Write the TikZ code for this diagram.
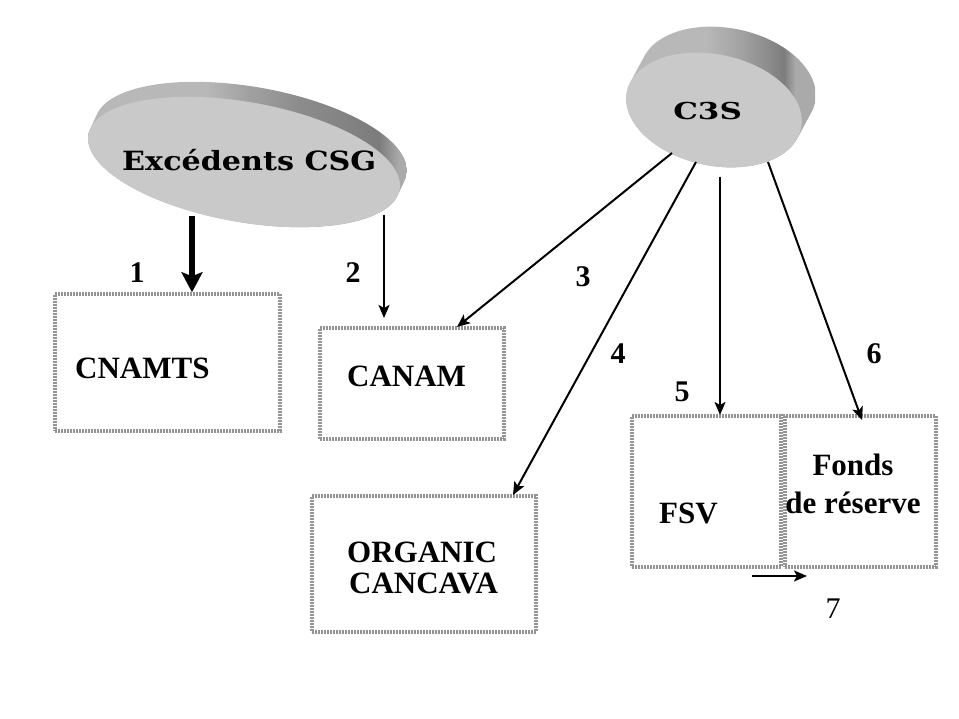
\documentclass[tikz,border=0pt]{standalone}
\usepackage{fontspec}
\setmainfont{Liberation Serif}
\newfontfamily\dvs{DejaVu Serif}
\usetikzlibrary{arrows.meta}
\definecolor{face}{HTML}{C9C9C9}
\definecolor{boxgray}{HTML}{949494}
\definecolor{bL}{HTML}{B8B8B8}
\definecolor{bM}{HTML}{A2A2A2}
\definecolor{bD}{HTML}{8C8C8C}
\definecolor{bK}{HTML}{7C7C7C}
\definecolor{bE}{HTML}{AAAAAA}
\pgfdeclarehorizontalshading{bandA}{100bp}{color(0bp)=(bL); color(44bp)=(bL); color(50bp)=(bM); color(58bp)=(bD); color(70bp)=(bK); color(73bp)=(bE); color(100bp)=(bE)}
\pgfdeclarehorizontalshading{bandB}{100bp}{color(0bp)=(bL); color(47bp)=(bL); color(56bp)=(bM); color(63bp)=(bD); color(67bp)=(bK); color(70bp)=(bE); color(100bp)=(bE)}
\tikzset{
  box/.style={draw=boxgray, line width=3.5pt, dash pattern=on 2pt off 1pt, inner sep=0pt},
  txt/.style={font=\bfseries\fontsize{31}{31}\selectfont, inner sep=0pt},
  num/.style={font=\bfseries\fontsize{30}{30}\selectfont, inner sep=0pt, anchor=base},
  thin/.style={line width=2pt, -{Stealth[length=13pt,width=11pt,inset=3pt]}},
  thick/.style={line width=6pt, -{Stealth[length=20pt,width=21pt,inset=4pt]}},
}
\begin{document}
\begin{tikzpicture}[x=1pt,y=-1pt]
\useasboundingbox (0,0) rectangle (959,719);
\fill[white] (0,0) rectangle (959,719);

% ---- Excedents CSG disc ----
\begin{scope}
  \path[clip, shift={(244,162)}, rotate=-10] plot[domain=0:360, samples=361]
      ({158*cos(\x) + 4.29*((cos(\x)*4.29/158 - sin(\x)*15.99/60) > 0)},
       {60*sin(\x) - 15.99*((cos(\x)*4.29/158 - sin(\x)*15.99/60) > 0)}) -- cycle;
  \shade[shading=bandA] (80,70) rectangle (412,240);
\end{scope}
\fill[face, shift={(244,162)}, rotate=-10] (0,0) ellipse [x radius=158pt, y radius=60pt];
\node[font=\dvs\bfseries\fontsize{26.5}{26.5}\selectfont, inner sep=0pt, anchor=base west, xscale=1.14] (csg) at (122,171) {Excédents CSG};

% ---- C3S disc ----
\begin{scope}
  \path[clip, shift={(714,110)}, rotate=-12] plot[domain=0:360, samples=361]
      ({89*cos(\x) + 8.28*((cos(\x)*8.28/89 - sin(\x)*28.34/55.5) > 0)},
       {55.5*sin(\x) - 28.34*((cos(\x)*8.28/89 - sin(\x)*28.34/55.5) > 0)}) -- cycle;
  \shade[shading=bandB] (620,15) rectangle (815,175);
\end{scope}
\fill[face, shift={(714,110)}, rotate=-12] (0,0) ellipse [x radius=89pt, y radius=55.5pt];
\node[font=\dvs\bfseries\fontsize{23.3}{23.3}\selectfont, inner sep=0pt, anchor=base west, xscale=1.33] (c3s) at (673,120) {C3S};

% ---- boxes ----
\node[box, minimum width=225pt, minimum height=137pt] (cnamts) at (167.5,362.5) {};
\node[box, minimum width=184pt, minimum height=111pt] (canam) at (412,383.5) {};
\node[box, minimum width=224pt, minimum height=136pt] (organic) at (424,564) {};
\node[box, minimum width=149pt, minimum height=151pt] (fsv) at (706.5,491.5) {};
\node[box, minimum width=151pt, minimum height=151pt] (fonds) at (860.5,491.5) {};

\node[txt, anchor=base west] (t1) at (75,379) {CNAMTS};
\node[txt, anchor=base west] (t2) at (347,387) {CANAM};
\node[txt, anchor=base west, align=left] (t3) at (347,593) {ORGANIC\\[0pt]\hspace*{2pt}CANCAVA};
\node[txt, anchor=base west] (t4) at (659,523) {FSV};
\node[txt, anchor=base, align=center, font=\bfseries\fontsize{31}{38}\selectfont] (t5) at (853,513) {Fonds\\de réserve};

% ---- numbers ----
\node[num] (n1) at (137,283) {1};
\node[num] (n2) at (353,283) {2};
\node[num] (n3) at (583,287) {3};
\node[num] (n4) at (618,363) {4};
\node[num] (n5) at (682,402) {5};
\node[num] (n6) at (874,363) {6};
\node[num, font=\fontsize{30}{30}\selectfont] (n7) at (833,618) {7};

% ---- connector end points ----
\coordinate (s1) at (192,216);
\coordinate (s2) at (384,215);
\coordinate (e2) at (384,318);
\coordinate (s3) at (672,153);
\coordinate (e3) at (457,327);
\coordinate (s4) at (696,162);
\coordinate (e4) at (513,495);
\coordinate (s5) at (720,177);
\coordinate (e5) at (720,415);
\coordinate (s6) at (768,162);
\coordinate (e6) at (862,420);
\coordinate (s7) at (752,576);
\coordinate (e7) at (807,576);

\draw[thick] (s1) -- (s1 |- cnamts.north);
\draw[thin] (s2) -- (e2);
\draw[thin] (s3) -- (e3);
\draw[thin] (s4) -- (e4);
\draw[thin] (s5) -- (e5);
\draw[thin] (s6) -- (e6);
\draw[thin] (s7) -- (e7);
\end{tikzpicture}
\end{document}
